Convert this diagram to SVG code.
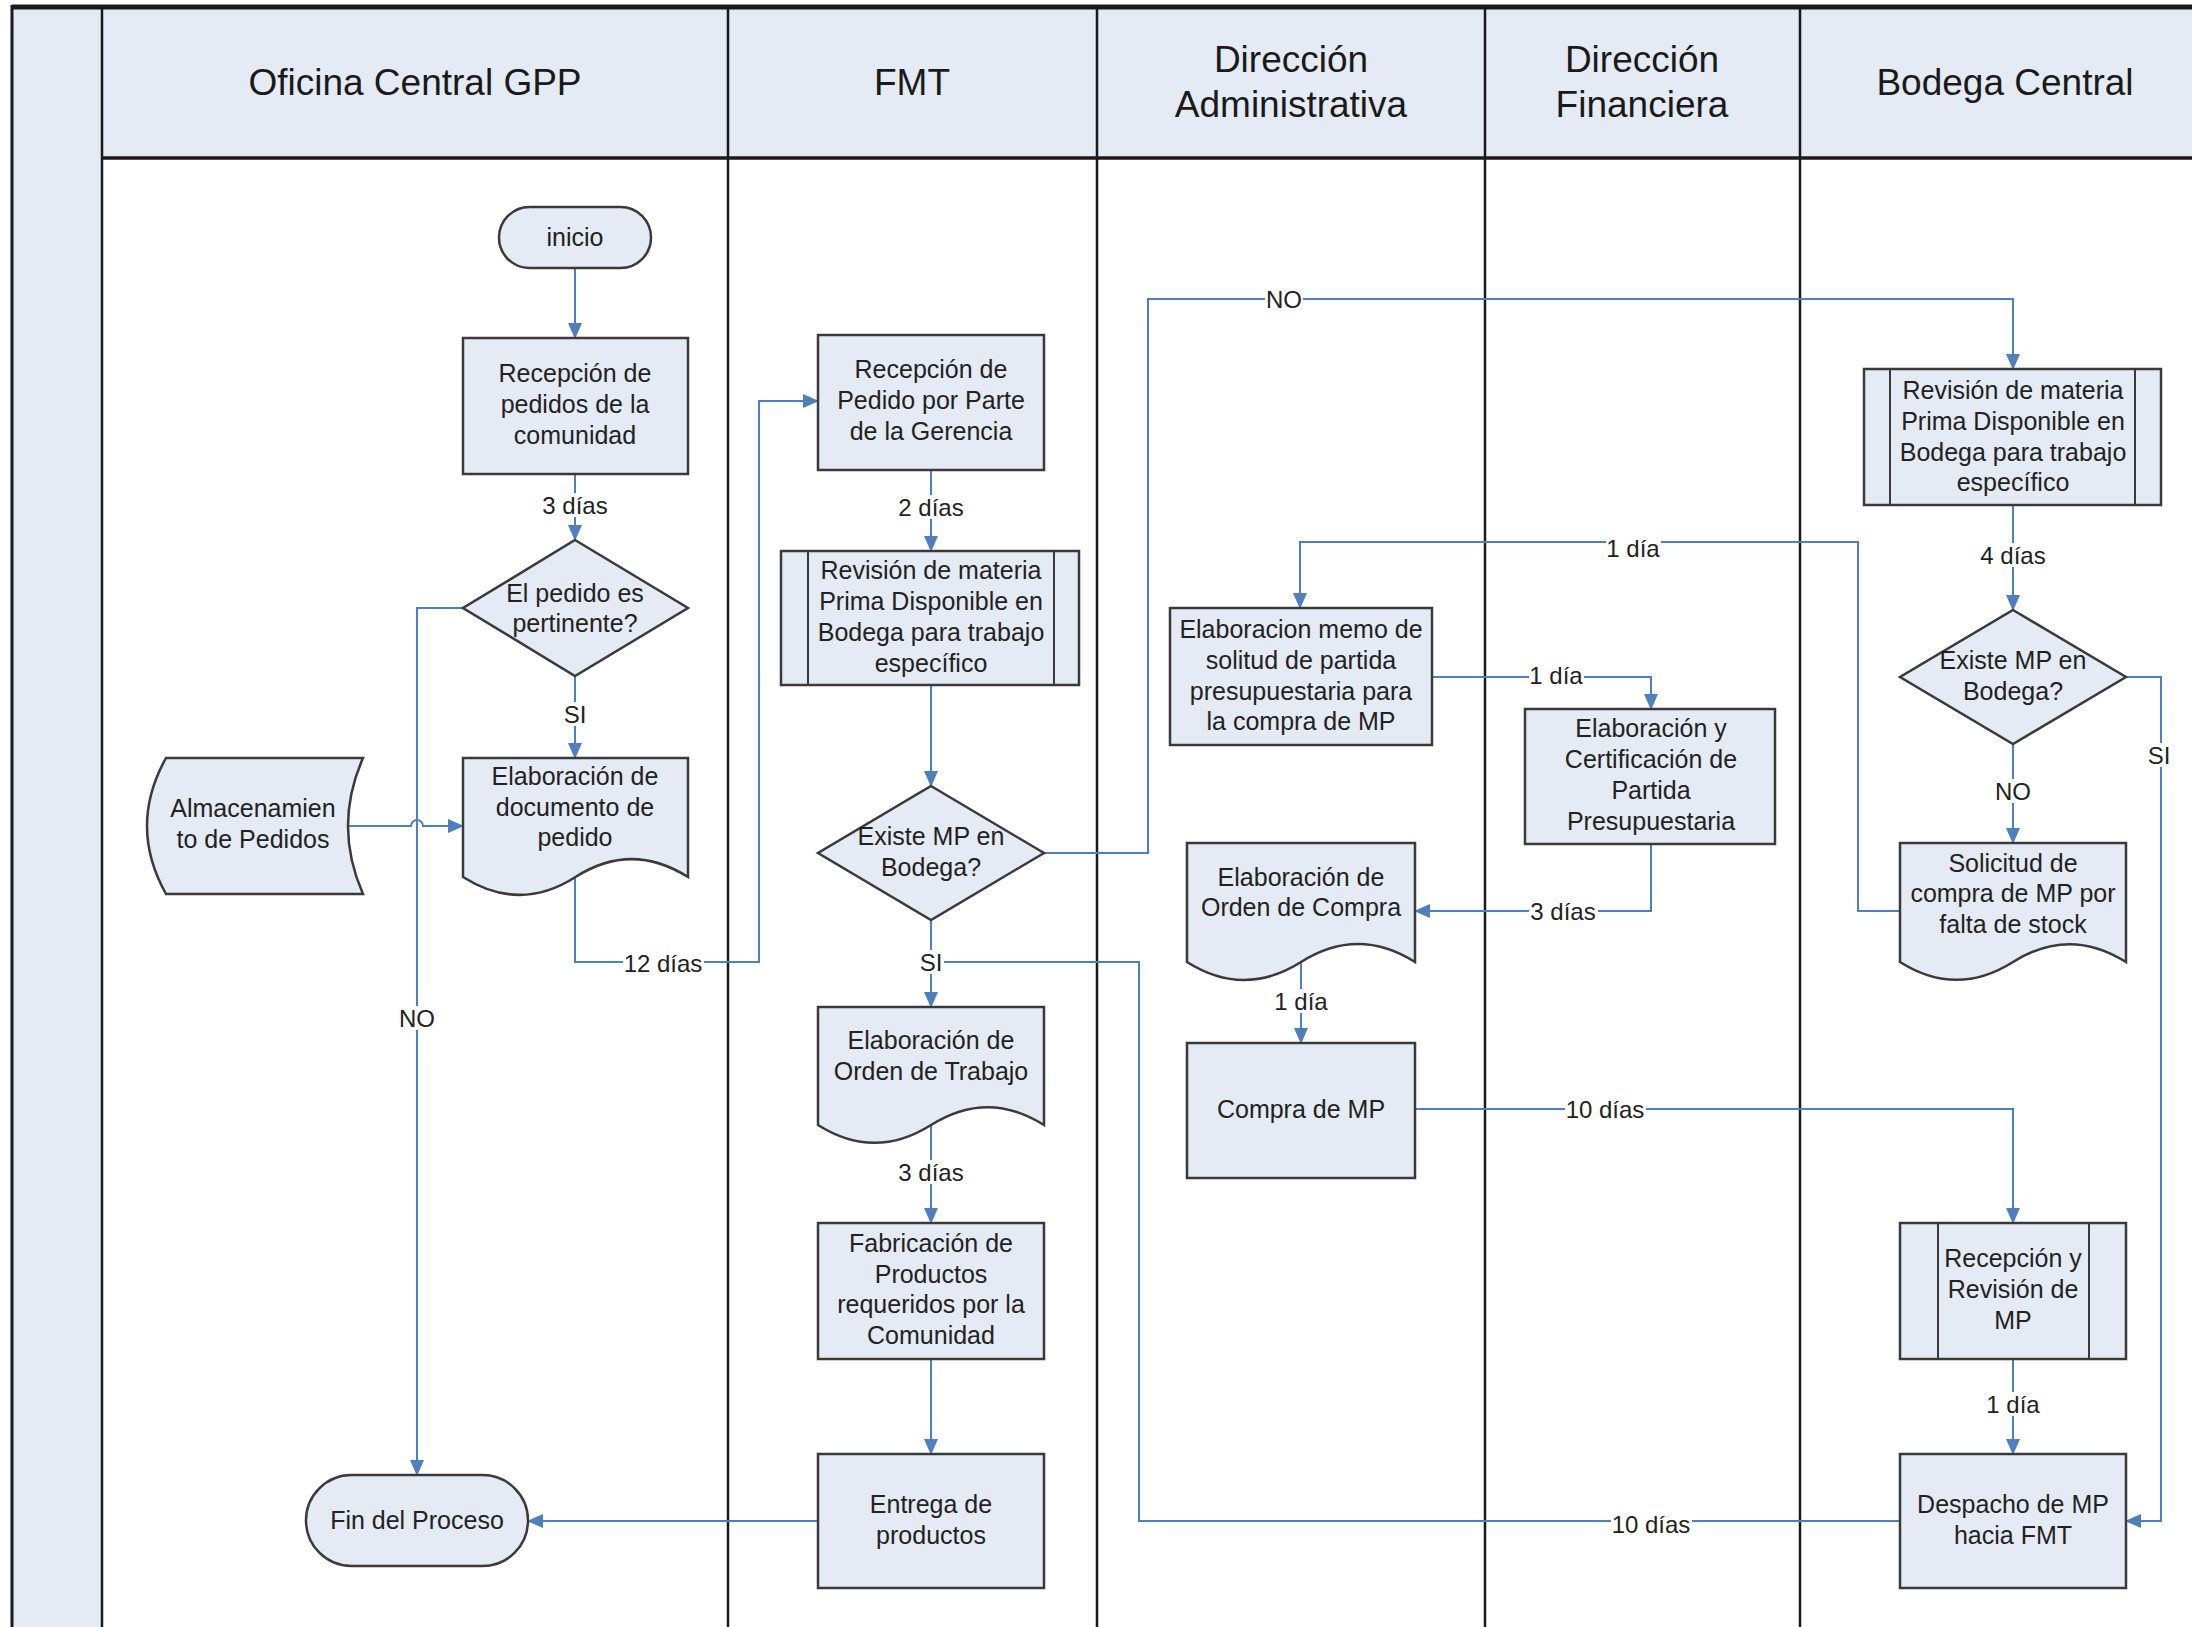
<svg xmlns="http://www.w3.org/2000/svg" width="2192" height="1627" viewBox="0 0 2192 1627">
<defs>
<style>
.lane{fill:#ffffff}
.hdr{fill:#e5ebf5}
.ln{stroke:#1a1a1a;stroke-width:2.5;fill:none}
.hd{font-family:"Liberation Sans",Arial,sans-serif;font-size:37px;fill:#1a1a1a;text-anchor:middle}
.nd{fill:#e5ebf5;stroke:#3a3a3a;stroke-width:2.5}
.bar{stroke:#3a3a3a;stroke-width:2;fill:none}
.t{font-family:"Liberation Sans",Arial,sans-serif;font-size:25px;fill:#222;text-anchor:middle}
.c{fill:none;stroke:#4f7fbd;stroke-width:2}
.lb{font-family:"Liberation Sans",Arial,sans-serif;font-size:24px;fill:#222;text-anchor:middle;dominant-baseline:central}
.bg{fill:#ffffff}
</style>
<marker id="ar" markerUnits="userSpaceOnUse" markerWidth="16" markerHeight="14" refX="15" refY="7" orient="auto">
<path d="M0,0 L16,7 L0,14 Z" fill="#4f7fbd"/>
</marker>
</defs>
<rect x="0" y="0" width="2192" height="1627" fill="#ffffff"/>
<g id="frame">
<rect x="12" y="7" width="90" height="1620" class="hdr"/>
<rect x="102" y="7" width="2090" height="151" class="hdr"/>
<line x1="12" y1="7" x2="2192" y2="7" stroke="#1a1a1a" stroke-width="5"/>
<line x1="12" y1="5" x2="12" y2="1627" stroke="#1a1a1a" stroke-width="3"/>
<line x1="102" y1="7" x2="102" y2="1627" class="ln"/>
<line x1="102" y1="158" x2="2192" y2="158" stroke="#1a1a1a" stroke-width="3.5"/>
<line x1="728" y1="7" x2="728" y2="1627" class="ln"/>
<line x1="1097" y1="7" x2="1097" y2="1627" class="ln"/>
<line x1="1485" y1="7" x2="1485" y2="1627" class="ln"/>
<line x1="1800" y1="7" x2="1800" y2="1627" class="ln"/>
<text class="hd" x="415" y="95">Oficina Central GPP</text>
<text class="hd" x="912" y="95">FMT</text>
<text class="hd" x="1291" y="72">Dirección</text>
<text class="hd" x="1291" y="117">Administrativa</text>
<text class="hd" x="1642" y="72">Dirección</text>
<text class="hd" x="1642" y="117">Financiera</text>
<text class="hd" x="2005" y="95">Bodega Central</text>
</g>
<g id="connectors">
<path class="c" d="M575,268 V338" marker-end="url(#ar)"/>
<path class="c" d="M575,474 V540" marker-end="url(#ar)"/>
<path class="c" d="M575,676 V758" marker-end="url(#ar)"/>
<path class="c" d="M463,608 H417 V1475" marker-end="url(#ar)"/>
<path class="c" d="M348,826 H411 A6,6 0 0 1 423,826 H463" marker-end="url(#ar)"/>
<path class="c" d="M575,877 V962 H759 V401 H818" marker-end="url(#ar)"/>
<path class="c" d="M931,470 V551" marker-end="url(#ar)"/>
<path class="c" d="M931,685 V786" marker-end="url(#ar)"/>
<path class="c" d="M1044,853 H1148 V299 H2013 V369" marker-end="url(#ar)"/>
<path class="c" d="M931,920 V1007" marker-end="url(#ar)"/>
<path class="c" d="M1900,1521 H1139 V962 H931"/>
<path class="c" d="M931,1125 V1223" marker-end="url(#ar)"/>
<path class="c" d="M931,1359 V1454" marker-end="url(#ar)"/>
<path class="c" d="M818,1521 H528" marker-end="url(#ar)"/>
<path class="c" d="M2013,505 V610" marker-end="url(#ar)"/>
<path class="c" d="M2013,744 V843" marker-end="url(#ar)"/>
<path class="c" d="M2126,677 H2161 V1521 H2126" marker-end="url(#ar)"/>
<path class="c" d="M1900,911 H1858 V542 H1300 V608" marker-end="url(#ar)"/>
<path class="c" d="M1432,677 H1651 V709" marker-end="url(#ar)"/>
<path class="c" d="M1651,844 V911 H1415" marker-end="url(#ar)"/>
<path class="c" d="M1301,962 V1043" marker-end="url(#ar)"/>
<path class="c" d="M1415,1109 H2013 V1223" marker-end="url(#ar)"/>
<path class="c" d="M2013,1359 V1454" marker-end="url(#ar)"/>
<rect class="bg" x="541" y="493" width="69" height="24"/><text class="lb" x="575" y="505">3 días</text>
<rect class="bg" x="563" y="702" width="25" height="24"/><text class="lb" x="575" y="714">SI</text>
<rect class="bg" x="398" y="1006" width="38" height="24"/><text class="lb" x="417" y="1018">NO</text>
<rect class="bg" x="623" y="951" width="81" height="24"/><text class="lb" x="663" y="963">12 días</text>
<rect class="bg" x="897" y="495" width="69" height="24"/><text class="lb" x="931" y="507">2 días</text>
<rect class="bg" x="1265" y="287" width="38" height="24"/><text class="lb" x="1284" y="299">NO</text>
<rect class="bg" x="919" y="950" width="25" height="24"/><text class="lb" x="931" y="962">SI</text>
<rect class="bg" x="1611" y="1512" width="81" height="24"/><text class="lb" x="1651" y="1524">10 días</text>
<rect class="bg" x="897" y="1160" width="69" height="24"/><text class="lb" x="931" y="1172">3 días</text>
<rect class="bg" x="1979" y="543" width="69" height="24"/><text class="lb" x="2013" y="555">4 días</text>
<rect class="bg" x="1994" y="779" width="38" height="24"/><text class="lb" x="2013" y="791">NO</text>
<rect class="bg" x="2147" y="743" width="25" height="24"/><text class="lb" x="2159" y="755">SI</text>
<rect class="bg" x="1606" y="536" width="55" height="24"/><text class="lb" x="1633" y="548">1 día</text>
<rect class="bg" x="1529" y="663" width="55" height="24"/><text class="lb" x="1556" y="675">1 día</text>
<rect class="bg" x="1529" y="899" width="69" height="24"/><text class="lb" x="1563" y="911">3 días</text>
<rect class="bg" x="1274" y="989" width="55" height="24"/><text class="lb" x="1301" y="1001">1 día</text>
<rect class="bg" x="1565" y="1097" width="81" height="24"/><text class="lb" x="1605" y="1109">10 días</text>
<rect class="bg" x="1986" y="1392" width="55" height="24"/><text class="lb" x="2013" y="1404">1 día</text>
</g>
<g id="n-inicio">
<rect class="nd" x="499" y="207" width="152" height="61" rx="30.5"/>
<text class="t" x="575" y="246">inicio</text>
</g>
<g id="n-recepcion-pedidos">
<rect class="nd" x="463" y="338" width="225" height="136"/>
<text class="t" x="575" y="382">Recepción de</text>
<text class="t" x="575" y="413">pedidos de la</text>
<text class="t" x="575" y="444">comunidad</text>
</g>
<g id="n-pertinente">
<polygon class="nd" points="575,540 688,608 575,676 463,608"/>
<text class="t" x="575" y="602">El pedido es</text>
<text class="t" x="575" y="632">pertinente?</text>
</g>
<g id="n-documento-pedido">
<path class="nd" d="M463,758 H688 V877 C650,853 613,853 575.5,877 C538,901 501,901 463,877 Z"/>
<text class="t" x="575" y="785">Elaboración de</text>
<text class="t" x="575" y="816">documento de</text>
<text class="t" x="575" y="846">pedido</text>
</g>
<g id="n-almacenamiento">
<path class="nd" d="M166,758 H363 Q333,826 363,894 H166 Q128,826 166,758 Z"/>
<text class="t" x="253" y="817">Almacenamien</text>
<text class="t" x="253" y="848">to de Pedidos</text>
</g>
<g id="n-fin">
<rect class="nd" x="306" y="1475" width="222" height="91" rx="45.5"/>
<text class="t" x="417" y="1529">Fin del Proceso</text>
</g>
<g id="n-recepcion-gerencia">
<rect class="nd" x="818" y="335" width="226" height="135"/>
<text class="t" x="931" y="378">Recepción de</text>
<text class="t" x="931" y="409">Pedido por Parte</text>
<text class="t" x="931" y="440">de la Gerencia</text>
</g>
<g id="n-revision-fmt">
<rect class="nd" x="781" y="551" width="298" height="134"/>
<line class="bar" x1="808" y1="551" x2="808" y2="685"/>
<line class="bar" x1="1054" y1="551" x2="1054" y2="685"/>
<text class="t" x="931" y="579">Revisión de materia</text>
<text class="t" x="931" y="610">Prima Disponible en</text>
<text class="t" x="931" y="641">Bodega para trabajo</text>
<text class="t" x="931" y="672">específico</text>
</g>
<g id="n-existe-fmt">
<polygon class="nd" points="931,786 1044,853 931,920 818,853"/>
<text class="t" x="931" y="845">Existe MP en</text>
<text class="t" x="931" y="876">Bodega?</text>
</g>
<g id="n-orden-trabajo">
<path class="nd" d="M818,1007 H1044 V1125 C1006,1101 969,1101 931,1125 C893,1149 856,1149 818,1125 Z"/>
<text class="t" x="931" y="1049">Elaboración de</text>
<text class="t" x="931" y="1080">Orden de Trabajo</text>
</g>
<g id="n-fabricacion">
<rect class="nd" x="818" y="1223" width="226" height="136"/>
<text class="t" x="931" y="1252">Fabricación de</text>
<text class="t" x="931" y="1283">Productos</text>
<text class="t" x="931" y="1313">requeridos por la</text>
<text class="t" x="931" y="1344">Comunidad</text>
</g>
<g id="n-entrega">
<rect class="nd" x="818" y="1454" width="226" height="134"/>
<text class="t" x="931" y="1513">Entrega de</text>
<text class="t" x="931" y="1544">productos</text>
</g>
<g id="n-memo">
<rect class="nd" x="1170" y="608" width="262" height="137"/>
<text class="t" x="1301" y="638">Elaboracion memo de</text>
<text class="t" x="1301" y="669">solitud de partida</text>
<text class="t" x="1301" y="700">presupuestaria para</text>
<text class="t" x="1301" y="730">la compra de MP</text>
</g>
<g id="n-orden-compra">
<path class="nd" d="M1187,843 H1415 V962 C1377,938 1339,938 1301,962 C1263,986 1225,986 1187,962 Z"/>
<text class="t" x="1301" y="886">Elaboración de</text>
<text class="t" x="1301" y="916">Orden de Compra</text>
</g>
<g id="n-compra">
<rect class="nd" x="1187" y="1043" width="228" height="135"/>
<text class="t" x="1301" y="1118">Compra de MP</text>
</g>
<g id="n-certificacion">
<rect class="nd" x="1525" y="709" width="250" height="135"/>
<text class="t" x="1651" y="737">Elaboración y</text>
<text class="t" x="1651" y="768">Certificación de</text>
<text class="t" x="1651" y="799">Partida</text>
<text class="t" x="1651" y="830">Presupuestaria</text>
</g>
<g id="n-revision-bodega">
<rect class="nd" x="1864" y="369" width="297" height="136"/>
<line class="bar" x1="1890" y1="369" x2="1890" y2="505"/>
<line class="bar" x1="2135" y1="369" x2="2135" y2="505"/>
<text class="t" x="2013" y="399">Revisión de materia</text>
<text class="t" x="2013" y="430">Prima Disponible en</text>
<text class="t" x="2013" y="461">Bodega para trabajo</text>
<text class="t" x="2013" y="491">específico</text>
</g>
<g id="n-existe-bodega">
<polygon class="nd" points="2013,610 2126,677 2013,744 1900,677"/>
<text class="t" x="2013" y="669">Existe MP en</text>
<text class="t" x="2013" y="700">Bodega?</text>
</g>
<g id="n-solicitud">
<path class="nd" d="M1900,843 H2126 V962 C2088,938 2051,938 2013,962 C1975,986 1938,986 1900,962 Z"/>
<text class="t" x="2013" y="872">Solicitud de</text>
<text class="t" x="2013" y="902">compra de MP por</text>
<text class="t" x="2013" y="933">falta de stock</text>
</g>
<g id="n-recepcion-revision">
<rect class="nd" x="1900" y="1223" width="226" height="136"/>
<line class="bar" x1="1938" y1="1223" x2="1938" y2="1359"/>
<line class="bar" x1="2089" y1="1223" x2="2089" y2="1359"/>
<text class="t" x="2013" y="1267">Recepción y</text>
<text class="t" x="2013" y="1298">Revisión de</text>
<text class="t" x="2013" y="1329">MP</text>
</g>
<g id="n-despacho">
<rect class="nd" x="1900" y="1454" width="226" height="134"/>
<text class="t" x="2013" y="1513">Despacho de MP</text>
<text class="t" x="2013" y="1544">hacia FMT</text>
</g>
</svg>
